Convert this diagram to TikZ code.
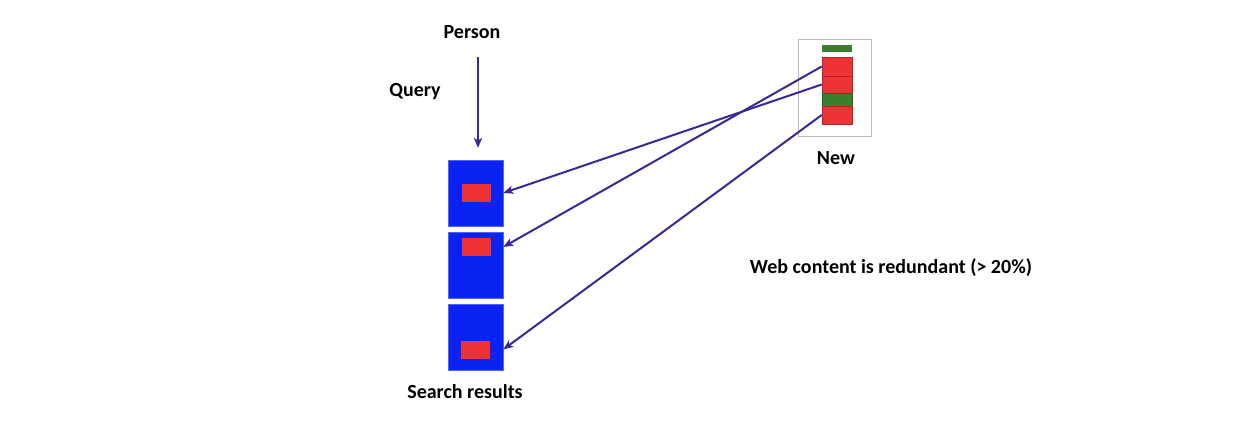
\documentclass[tikz,border=0pt]{standalone}
\usepackage{fontspec}
\setmainfont{Carlito}
\usetikzlibrary{arrows.meta,calc}
\definecolor{bblue}{HTML}{0A22F2}
\definecolor{rred}{HTML}{EE3236}
\definecolor{ggreen}{HTML}{3A7E2E}
\definecolor{arr}{HTML}{3B2796}
\definecolor{frame}{HTML}{BDBDBD}
\tikzset{
  lbl/.style={font=\bfseries\fontsize{20}{24}\selectfont, inner sep=0pt},
  bluebox/.style={fill=bblue, draw=bblue!70!white, line width=0.5pt, minimum width=55pt, minimum height=66pt, inner sep=0pt},
  redrect/.style={fill=rred, minimum width=29pt, minimum height=18pt, inner sep=0pt},
  seg/.style={fill=#1, draw=#1!75!black, line width=0.6pt, minimum width=30pt, inner sep=0pt},
  link/.style={draw=arr, line width=2pt, -{Stealth[length=10pt,width=8pt,inset=2.5pt]}}
}
\begin{document}
\begin{tikzpicture}[x=1pt,y=-1pt]
\useasboundingbox (0,0) rectangle (1234,424);
\fill[white] (0,0) rectangle (1234,424);
% labels
\node[lbl] (person) at (472,32) {Person};
\node[lbl] (query) at (415,92) {Query};
\node[lbl] (search) at (465,392) {Search results};
\node[lbl] (new) at (836,158) {New};
\node[lbl] (web) at (891,268) {Web content is redundant (> 20\%)};
% search results
\node[bluebox] (b1) at (475.5,193) {};
\node[bluebox] (b2) at (475.5,265) {};
\node[bluebox] (b3) at (475.5,337.5) {};
\node[redrect] (r1) at (476.5,193) {};
\node[redrect] (r2) at (476.5,247) {};
\node[redrect] (r3) at (475.5,349.5) {};
% new document
\node[draw=frame, line width=0.8pt, minimum width=73pt, minimum height=97pt, inner sep=0pt] (frm) at (834.5,87.5) {};
\node[fill=ggreen, minimum width=30pt, minimum height=7pt, inner sep=0pt] (g0) at (837,48.5) {};
\node[seg=rred, minimum height=19pt] (s1) at (837,66.5) {};
\node[seg=rred, minimum height=17pt] (s2) at (837,84.5) {};
\node[seg=ggreen, minimum height=13pt] (s3) at (837,99.5) {};
\node[seg=rred, minimum height=18pt] (s4) at (837,115) {};
% query arrow
\coordinate (qs) at (478,57);
\coordinate (qe) at (478,148);
\draw[link] (qs) -- (qe);
% links
\draw[link] (s2.west) -- (b1.east);
\draw[link] (s1.west) -- (b2.east |- r2.center);
\draw[link] (s4.west) -- (b3.east |- r3.center);
\end{tikzpicture}
\end{document}
